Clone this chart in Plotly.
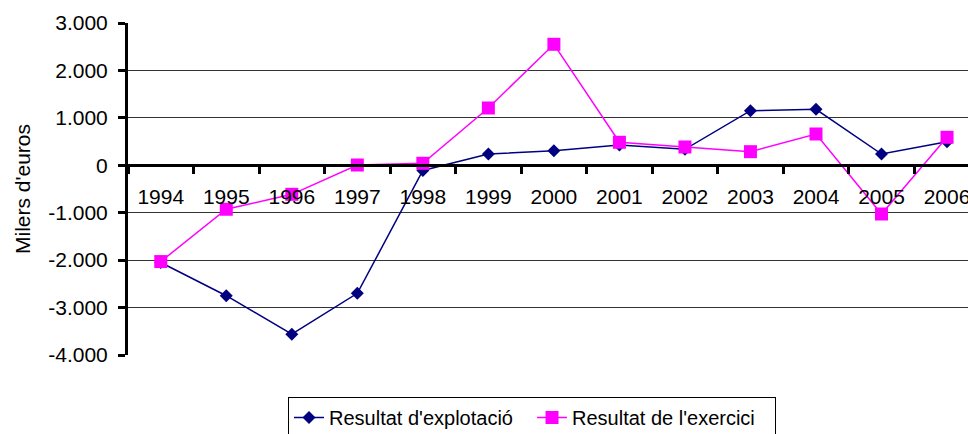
import plotly.graph_objects as go

years = ["1994", "1995", "1996", "1997", "1998", "1999", "2000",
         "2001", "2002", "2003", "2004", "2005", "2006"]
explotacio = [-2050, -2750, -3560, -2700, -110, 238, 308, 428, 337, 1151, 1180, 238, 498]
exercici = [-2030, -927, -612, 6, 42, 1208, 2551, 485, 386, 287, 660, -1027, 590]

y_tickvals = [3000, 2000, 1000, 0, -1000, -2000, -3000, -4000]
y_ticktext = ["3.000", "2.000", "1.000", "0", "-1.000", "-2.000", "-3.000", "-4.000"]

fig = go.Figure()
fig.add_trace(go.Scatter(
    x=years, y=explotacio, name="Resultat d'explotació", mode="lines+markers",
    line=dict(color="#000080", width=1.5),
    marker=dict(symbol="diamond", size=10, color="#000080"),
))
fig.add_trace(go.Scatter(
    x=years, y=exercici, name="Resultat de l'exercici", mode="lines+markers",
    line=dict(color="#FF00FF", width=1.5),
    marker=dict(symbol="square", size=13, color="#FF00FF"),
))

fig.update_layout(
    width=968, height=434,
    margin=dict(l=128, r=0, t=23, b=79, autoexpand=False),
    paper_bgcolor="white", plot_bgcolor="white",
    font=dict(family="Liberation Sans, Arial, sans-serif", color="black"),
    showlegend=True,
    legend=dict(
        orientation="h", x=0.1905, xanchor="left", y=-0.1265, yanchor="top",
        bordercolor="black", borderwidth=1, font=dict(size=20),
        bgcolor="white", entrywidth=198, entrywidthmode="pixels",
    ),
    xaxis=dict(
        type="category", range=[-0.5, 12.32],
        anchor="free", position=4/7, automargin=False,
        showline=True, linecolor="black", linewidth=3,
        ticks="outside", tickson="boundaries", ticklen=7, tickwidth=3, tickcolor="black",
        showgrid=False, zeroline=False,
        tickfont=dict(size=21), ticklabelstandoff=12,
    ),
    yaxis=dict(
        range=[-4000, 3000], tickvals=y_tickvals, ticktext=y_ticktext,
        automargin=False,
        showline=True, linecolor="black", linewidth=3,
        ticks="outside", ticklen=7, tickwidth=3, tickcolor="black",
        showgrid=True, gridcolor="#333333", gridwidth=1,
        zeroline=False, tickfont=dict(size=21), ticklabelstandoff=6,
        title=dict(text="Milers d'euros", font=dict(size=21), standoff=12),
    ),
)

fig.write_html(
    "out.html",
    config={"displayModeBar": False},
    post_script="document.body.style.margin='0';document.body.style.overflow='hidden';",
)
